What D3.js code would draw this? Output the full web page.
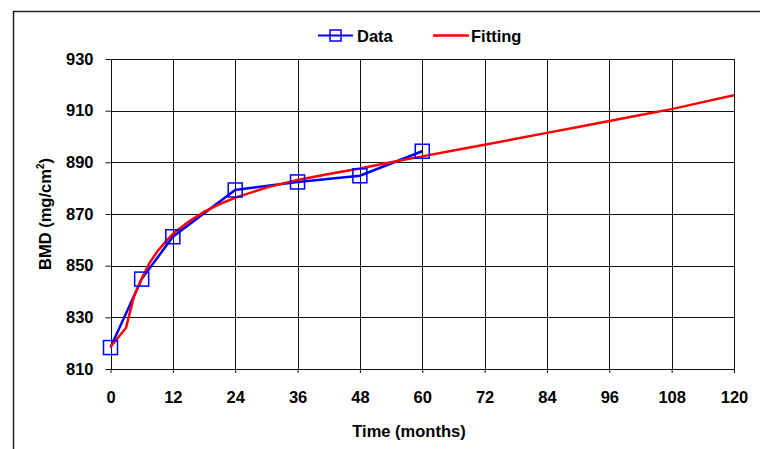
<!DOCTYPE html>
<html><head><meta charset="utf-8">
<script src="https://cdn.jsdelivr.net/npm/d3@7"></script>
<style>
html,body{margin:0;padding:0;background:#fff;}
svg{display:block;font-family:"Liberation Sans",Arial,sans-serif;}
</style></head>
<body>
<svg id="c" width="760" height="449"></svg>
<script>
const dataMonths = [0, 6, 12, 24, 36, 48, 60];
const dataBMD = [818.3, 844.8, 861.2, 879.3, 882.4, 884.8, 894.3];
const fitMonths = [0, 3, 4.5, 6, 7.5, 9, 10.5, 12, 15, 18, 21, 24, 30, 36, 42, 48, 54, 60, 66, 72, 78, 84, 90, 96, 102, 108, 114, 120];
const fitBMD = [818.5, 826, 838, 845, 851, 855.5, 859, 862.3, 867, 870.8, 873.8, 876.3, 880.2, 883.2, 885.5, 887.6, 890, 892.3, 894.6, 896.8, 899.1, 901.4, 903.7, 906, 908.3, 910.6, 913.3, 916];
const xTicks = [0, 12, 24, 36, 48, 60, 72, 84, 96, 108, 120];
const yTicks = [810, 830, 850, 870, 890, 910, 930];
const seriesNames = ["Data", "Fitting"];

const svg = d3.select("#c");
const L = 110.5, R = 734, T = 59, B = 369;
const x = d3.scaleLinear().domain([0, 120]).range([L, R]);
const y = d3.scaleLinear().domain([810, 930]).range([B, T]);
const FS = 16.5;

// outer frame
svg.append("rect").attr("x", 13.5).attr("y", 11.5).attr("width", 800).attr("height", 500)
  .attr("fill", "none").attr("stroke", "#222").attr("stroke-width", 1.5);

// grid
const g = svg.append("g");
g.selectAll("line.v").data(xTicks).enter().append("line")
  .attr("x1", d => Math.round(x(d)) + 0.5).attr("x2", d => Math.round(x(d)) + 0.5)
  .attr("y1", T).attr("y2", B).attr("stroke", "#111").attr("stroke-width", 1);
g.selectAll("line.h").data(yTicks).enter().append("line")
  .attr("y1", d => Math.round(y(d)) + 0.5).attr("y2", d => Math.round(y(d)) + 0.5)
  .attr("x1", L).attr("x2", R).attr("stroke", "#111").attr("stroke-width", 1);

// axes
const xAxis = d3.axisBottom(x).tickValues(xTicks).tickSize(4).tickPadding(18);
const yAxis = d3.axisLeft(y).tickValues(yTicks).tickSize(5).tickPadding(12);
const gx = svg.append("g").attr("transform", `translate(0,${B})`).call(xAxis);
const gy = svg.append("g").attr("transform", `translate(${L},0)`).call(yAxis);
[gx, gy].forEach(a => {
  a.select(".domain").remove();
  a.selectAll("line").attr("stroke", "#111");
  a.selectAll("text").attr("font-family", "Liberation Sans, Arial, sans-serif")
    .attr("font-size", FS).attr("font-weight", "bold").attr("fill", "#000");
});

// lines
const fitData = fitMonths.map((m, i) => [m, fitBMD[i]]);
const dData = dataMonths.map((m, i) => [m, dataBMD[i]]);
const line = d3.line().x(d => x(d[0])).y(d => y(d[1]));
svg.append("path").datum(dData).attr("d", line).attr("fill", "none")
  .attr("stroke", "#0000ff").attr("stroke-width", 2.5);
svg.append("path").datum(fitData).attr("d", line).attr("fill", "none")
  .attr("stroke", "#ff0000").attr("stroke-width", 2.5);
svg.selectAll("rect.m").data(dData).enter().append("rect")
  .attr("x", d => x(d[0]) - 7).attr("y", d => y(d[1]) - 7)
  .attr("width", 14).attr("height", 14).attr("fill", "none")
  .attr("stroke", "#0000ff").attr("stroke-width", 1.5);

// axis titles
svg.append("text").attr("x", 409).attr("y", 437).attr("text-anchor", "middle")
  .attr("font-size", FS).attr("font-weight", "bold").text("Time (months)");
const yl = svg.append("text").attr("transform", "translate(51,214) rotate(-90)")
  .attr("text-anchor", "middle").attr("font-size", FS).attr("font-weight", "bold");
yl.append("tspan").text("BMD (mg/cm");
yl.append("tspan").attr("font-size", 10).attr("dy", -7).text("2");
yl.append("tspan").attr("dy", 7).text(")");

// legend
const lg = svg.append("g");
lg.append("line").attr("x1", 318).attr("x2", 353).attr("y1", 35.5).attr("y2", 35.5)
  .attr("stroke", "#0000ff").attr("stroke-width", 2);
lg.append("rect").attr("x", 330).attr("y", 30).attr("width", 11).attr("height", 11)
  .attr("fill", "none").attr("stroke", "#0000ff").attr("stroke-width", 1.5);
lg.append("text").attr("x", 357).attr("y", 42).attr("font-size", FS).attr("font-weight", "bold").text(seriesNames[0]);
lg.append("line").attr("x1", 433).attr("x2", 469).attr("y1", 35.5).attr("y2", 35.5)
  .attr("stroke", "#ff0000").attr("stroke-width", 2.5);
lg.append("text").attr("x", 471).attr("y", 42).attr("font-size", FS).attr("font-weight", "bold").text(seriesNames[1]);
</script>
</body></html>
